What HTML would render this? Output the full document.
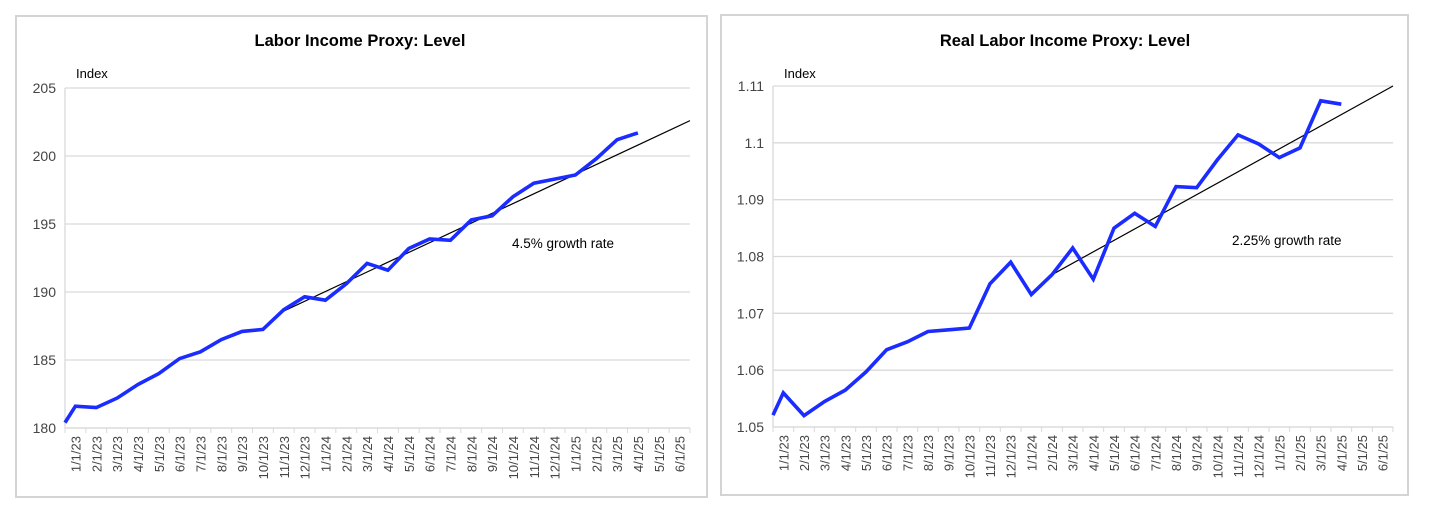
<!DOCTYPE html>
<html><head><meta charset="utf-8"><style>
html,body{margin:0;padding:0;background:#fff;width:1430px;height:513px;overflow:hidden}
svg{display:block;font-family:"Liberation Sans",Arial,sans-serif}
</style></head><body>
<svg id="s" width="1430" height="513" xmlns="http://www.w3.org/2000/svg"></svg>
<script>
const labels=["1/1/23","2/1/23","3/1/23","4/1/23","5/1/23","6/1/23","7/1/23","8/1/23","9/1/23","10/1/23","11/1/23","12/1/23","1/1/24","2/1/24","3/1/24","4/1/24","5/1/24","6/1/24","7/1/24","8/1/24","9/1/24","10/1/24","11/1/24","12/1/24","1/1/25","2/1/25","3/1/25","4/1/25","5/1/25","6/1/25"];
function chart(o){
  let h='';
  h+=`<rect x="${o.bx}" y="${o.by}" width="${o.bw}" height="${o.bh}" fill="#fff" stroke="#d4d4d4" stroke-width="2"/>`;
  h+=`<text x="${o.tx}" y="46" font-size="16.5" font-weight="bold" text-anchor="middle">${o.title}</text>`;
  h+=`<text x="${o.x0+11}" y="78" font-size="13">Index</text>`;
  const ys=v=>o.y1+(v-o.vmin)/(o.vmax-o.vmin)*(o.y0-o.y1);
  const w=(o.x1-o.x0)/30;
  o.ticks.forEach(t=>{
    const y=ys(t.v);
    h+=`<line x1="${o.x0}" x2="${o.x1}" y1="${y}" y2="${y}" stroke="#d9d9d9" stroke-width="1.3"/>`;
    h+=`<text x="${o.x0-9}" y="${y+5}" font-size="14" fill="#444" text-anchor="end">${t.l}</text>`;
  });
  h+=`<line x1="${o.x0}" x2="${o.x0}" y1="${o.y0}" y2="${o.y1}" stroke="#d9d9d9" stroke-width="1.3"/>`;
  h+=`<line x1="${o.x0}" x2="${o.x1}" y1="${o.y1}" y2="${o.y1}" stroke="#d9d9d9" stroke-width="1.3"/>`;
  for(let i=0;i<=30;i++){const x=o.x0+i*w;h+=`<line x1="${x}" x2="${x}" y1="${o.y1}" y2="${o.y1+5}" stroke="#d9d9d9"/>`;}
  labels.forEach((l,i)=>{const x=o.x0+(i+0.5)*w+5;h+=`<text transform="translate(${x},${o.y1+8}) rotate(-90)" font-size="13" fill="#444" text-anchor="end">${l}</text>`;});
  // trend
  h+=`<line x1="${o.x0+(o.ts+0.5)*w}" y1="${ys(o.tv0)}" x2="${o.x1}" y2="${ys(o.tv1)}" stroke="#000" stroke-width="1.2"/>`;
  let pts=[[o.x0,ys(o.first)]];
  o.data.forEach((v,i)=>pts.push([o.x0+(i+0.5)*w,ys(v)]));
  h+=`<polyline points="${pts.map(p=>p[0].toFixed(1)+','+p[1].toFixed(1)).join(' ')}" fill="none" stroke="#1a2cff" stroke-width="3.6" stroke-linejoin="miter"/>`;
  h+=`<text x="${o.gx}" y="${o.gy}" font-size="13.5">${o.gt}</text>`;
  return h;
}
let s='';
s+=chart({bx:16,by:16,bw:691,bh:481,tx:360,title:"Labor Income Proxy: Level",x0:65,x1:690,y0:88,y1:428,vmin:180,vmax:205,
 ticks:[180,185,190,195,200,205].map(v=>({v,l:v})),first:180.4,
 data:[181.6,181.5,182.2,183.2,184.0,185.1,185.6,186.5,187.1,187.25,188.7,189.65,189.4,190.6,192.1,191.6,193.2,193.9,193.8,195.3,195.6,197.0,198.0,198.3,198.6,199.8,201.2,201.7],
 ts:10,tv0:188.6,tv1:202.6,gx:512,gy:248,gt:"4.5% growth rate"});
s+=chart({bx:721,by:15,bw:687,bh:480,tx:1065,title:"Real Labor Income Proxy: Level",x0:773,x1:1393,y0:86,y1:427,vmin:1.05,vmax:1.11,
 ticks:[[1.05,"1.05"],[1.06,"1.06"],[1.07,"1.07"],[1.08,"1.08"],[1.09,"1.09"],[1.1,"1.1"],[1.11,"1.11"]].map(a=>({v:a[0],l:a[1]})),first:1.0521,
 data:[1.0560,1.0520,1.0545,1.0565,1.0597,1.0636,1.0650,1.0668,1.0671,1.0674,1.0752,1.0790,1.0733,1.0768,1.0815,1.0760,1.0850,1.0876,1.0853,1.0923,1.0921,1.0970,1.1014,1.0998,1.0974,1.0991,1.1074,1.1068],
 ts:13,tv0:1.0768,tv1:1.110,gx:1232,gy:245,gt:"2.25% growth rate"});
document.getElementById('s').innerHTML=s;
</script>
</body></html>
